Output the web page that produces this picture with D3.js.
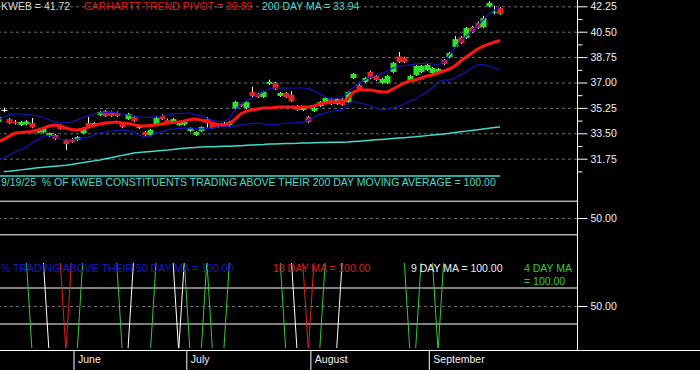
<!DOCTYPE html>
<html>
<head>
<meta charset="utf-8">
<script src="https://cdn.jsdelivr.net/npm/d3@7"></script>
<style>
body { margin: 0; background: #000; }
svg { display: block; font-family: "Liberation Sans", Arial, sans-serif; font-size: 10.5px; }
svg text { white-space: pre; }
.grid line { stroke: #6e6e6e; stroke-dasharray: 3,3; }
.axis text { fill: #f0f0f0; }
.axis line { stroke: #fff; }
</style>
</head>
<body>
<svg id="chart" width="700" height="370"></svg>
<script>
// trading days shown, May 13 - Sep 19 2025
const dates = [
  "2025-05-13","2025-05-14","2025-05-15","2025-05-16","2025-05-19","2025-05-20","2025-05-21","2025-05-22","2025-05-23","2025-05-27","2025-05-28","2025-05-29","2025-05-30",
  "2025-06-02","2025-06-03","2025-06-04","2025-06-05","2025-06-06","2025-06-09","2025-06-10","2025-06-11","2025-06-12","2025-06-13","2025-06-16","2025-06-17","2025-06-18","2025-06-20","2025-06-23","2025-06-24","2025-06-25","2025-06-26","2025-06-27","2025-06-30",
  "2025-07-01","2025-07-02","2025-07-03","2025-07-07","2025-07-08","2025-07-09","2025-07-10","2025-07-11","2025-07-14","2025-07-15","2025-07-16","2025-07-17","2025-07-18","2025-07-21","2025-07-22","2025-07-23","2025-07-24","2025-07-25","2025-07-28","2025-07-29","2025-07-30","2025-07-31",
  "2025-08-01","2025-08-04","2025-08-05","2025-08-06","2025-08-07","2025-08-08","2025-08-11","2025-08-12","2025-08-13","2025-08-14","2025-08-15","2025-08-18","2025-08-19","2025-08-20","2025-08-21","2025-08-22","2025-08-25","2025-08-26","2025-08-27","2025-08-28","2025-08-29",
  "2025-09-02","2025-09-03","2025-09-04","2025-09-05","2025-09-08","2025-09-09","2025-09-10","2025-09-11","2025-09-12","2025-09-15","2025-09-16","2025-09-17","2025-09-18","2025-09-19"
]

const open = [34.28,35.10,34.48,34.30,34.07,34.12,34.21,33.56,33.56,33.31,
  33.38,34.07,33.04,33.11,33.04,33.52,34.21,34.07,34.76,35.03,
  34.97,34.90,34.21,34.48,34.62,33.95,33.59,33.38,34.07,34.69,
  34.41,34.21,34.07,34.10,33.66,33.38,33.66,34.48,34.21,34.07,
  34.10,34.07,35.24,35.52,35.24,36.35,36.21,36.00,36.90,36.97,
  36.07,36.28,36.14,35.38,35.10,34.62,35.03,35.38,35.59,35.86,
  35.52,35.86,35.66,37.30,36.83,37.04,37.72,37.45,36.97,36.97,
  37.72,38.80,38.70,37.17,37.52,37.72,37.86,37.65,37.65,38.55,
  38.76,39.45,40.13,40.06,40.82,41.10,40.82,42.25,41.82,42.13]
const high = [34.70,35.25,34.55,34.40,34.35,34.40,34.55,33.75,33.90,33.55,
  33.45,34.12,33.10,33.18,33.30,33.92,34.62,34.26,35.02,35.10,
  35.05,35.00,34.28,34.90,34.70,34.10,33.66,33.78,34.62,34.80,
  34.50,34.55,34.34,34.36,33.92,33.64,33.98,34.62,34.28,34.14,
  34.30,34.34,35.72,35.60,35.72,36.70,36.28,36.42,37.20,37.04,
  36.34,36.35,36.40,35.45,35.38,34.70,35.30,35.72,36.00,35.95,
  35.92,35.93,36.42,37.66,36.90,37.38,37.80,37.52,37.30,37.52,
  38.42,39.10,38.78,37.52,38.20,38.20,38.28,38.06,38.00,38.62,
  39.10,40.20,40.20,40.82,40.90,41.20,41.60,42.60,42.30,42.20]
const low = [34.20,34.95,34.15,34.10,34.00,34.05,33.85,33.50,33.50,33.25,
  33.05,33.75,32.35,32.85,32.98,33.45,33.88,34.00,34.70,34.62,
  34.64,34.62,33.86,34.42,34.28,33.80,33.30,33.32,34.00,34.42,
  34.15,34.15,34.00,34.02,33.60,33.32,33.60,33.90,33.80,33.88,
  33.95,34.00,35.18,35.32,35.18,36.00,35.94,35.94,36.84,36.48,
  36.00,35.94,35.66,35.04,35.04,34.20,34.96,35.32,35.52,35.45,
  35.46,35.38,35.60,37.24,36.48,36.98,37.24,37.10,36.90,36.90,
  37.66,38.34,38.34,37.10,37.46,37.66,37.80,37.58,37.58,38.21,
  38.70,39.38,39.65,40.00,40.42,40.68,40.75,42.18,41.70,41.66]
const close = [34.62,35.08,34.21,34.18,34.28,34.32,33.90,33.70,33.84,33.52,
  33.11,33.80,32.76,32.90,33.25,33.87,33.93,34.21,34.97,34.69,
  34.69,34.69,33.93,34.83,34.35,33.93,33.38,33.73,34.55,34.48,
  34.21,34.48,34.28,34.30,33.87,33.59,33.93,34.21,33.87,33.95,
  34.12,34.28,35.66,35.38,35.66,36.07,36.00,36.35,37.04,36.55,
  36.28,36.00,35.73,35.10,35.31,34.28,35.24,35.66,35.93,35.52,
  35.86,35.45,36.35,37.59,36.55,37.31,37.31,37.17,37.24,37.45,
  38.35,38.40,38.40,37.45,38.14,38.14,38.21,38.00,37.93,38.28,
  39.03,39.99,39.72,40.75,40.48,40.75,41.44,42.49,41.88,41.72]

const pivot = [32.90,33.10,33.31,33.52,33.55,33.59,33.62,33.73,33.86,34.00,
  34.07,34.00,33.86,33.76,33.73,33.79,33.93,34.04,34.14,34.21,
  34.24,34.28,34.21,34.17,34.10,34.00,34.00,34.04,34.07,34.14,
  34.21,34.24,34.28,34.35,34.45,34.48,34.41,34.31,34.21,34.10,
  34.07,34.17,34.48,34.83,35.03,35.10,35.17,35.24,35.24,35.28,
  35.31,35.31,35.31,35.31,35.31,35.31,35.38,35.52,35.59,35.62,
  35.66,35.72,35.86,36.35,36.48,36.48,36.48,36.41,36.35,36.35,
  36.55,36.76,36.97,37.10,37.17,37.31,37.45,37.52,37.66,37.79,
  37.93,38.14,38.48,38.76,39.03,39.31,39.51,39.65,39.79,39.89]
const bandUpper = [34.41,34.62,34.79,34.83,34.83,34.79,34.76,34.69,34.59,34.45,
  34.28,34.21,34.24,34.28,34.41,34.59,34.72,34.83,34.90,34.93,
  34.97,34.93,34.83,34.76,34.69,34.62,34.59,34.62,34.66,34.69,
  34.76,34.83,34.86,34.90,34.90,34.79,34.69,34.55,34.41,34.31,
  34.28,34.55,35.10,35.52,35.72,35.93,36.14,36.35,36.55,36.62,
  36.62,36.62,36.62,36.62,36.62,36.59,36.41,36.21,36.00,35.86,
  35.90,36.00,36.28,36.69,36.97,37.17,37.38,37.52,37.62,37.79,
  38.00,38.10,38.17,38.21,38.28,38.31,38.34,38.28,38.24,38.41,
  38.89,39.38,39.86,40.20,40.55,40.89,41.31,41.72,42.00,42.20]
const bandLower = [31.65,31.80,32.00,32.21,32.35,32.55,32.83,33.04,33.31,33.35,
  33.24,33.10,33.04,33.07,33.10,33.17,33.24,33.38,33.52,33.59,
  33.66,33.69,33.73,33.69,33.59,33.38,33.24,33.31,33.52,33.62,
  33.73,33.79,33.83,33.86,33.86,33.83,33.79,33.83,33.86,33.93,
  34.00,33.97,34.00,34.07,34.14,34.17,34.21,34.14,34.07,34.10,
  34.14,34.21,34.21,34.24,34.28,34.41,34.62,34.79,34.90,35.00,
  35.07,35.10,35.45,35.72,35.59,35.52,35.38,35.24,35.10,35.17,
  35.28,35.34,35.52,35.72,35.86,36.14,36.35,36.62,37.04,37.17,
  37.17,37.31,37.52,37.72,38.00,38.21,38.24,38.14,38.00,37.86]
const ma200 = [null,30.86,30.89,30.93,30.98,31.03,31.08,31.13,31.16,31.20,
  31.23,31.26,31.30,31.35,31.42,31.48,31.54,31.60,31.66,31.74,
  31.82,31.90,31.98,32.06,32.14,32.18,32.22,32.25,32.28,32.32,
  32.35,32.39,32.43,32.47,32.50,32.53,32.56,32.57,32.58,32.59,
  32.60,32.61,32.63,32.65,32.67,32.69,32.71,32.73,32.76,32.77,
  32.78,32.79,32.80,32.81,32.83,32.84,32.85,32.86,32.87,32.88,
  32.89,32.89,32.90,32.93,32.96,32.99,33.02,33.05,33.08,33.11,
  33.14,33.17,33.20,33.23,33.26,33.30,33.34,33.38,33.42,33.46,
  33.50,33.55,33.60,33.65,33.70,33.75,33.80,33.85,33.90,33.94]

// % of constituents above their moving averages
const pct200 = [100,100,100,100,100,100,100,100,100,100, 100,100,100,100,100,100,100,100,100,100,
  100,100,100,100,100,100,100,100,100,100, 100,100,100,100,100,100,100,100,100,100,
  100,100,100,100,100,100,100,100,100,100, 100,100,100,100,100,100,100,100,100,100,
  100,100,100,100,100,100,100,100,100,100, 100,100,100,100,100,100,100,100,100,100,
  100,100,100,100,100,100,100,100,100,100]
const pct50 = pct200.slice()
const pct18 = [100,100,100,100,100,100,100,100,100,100, 100,100,0,100,100,100,100,100,100,100,
  100,100,100,100,100,100,100,100,100,100, 100,100,100,100,100,100,100,100,100,100,
  100,100,100,100,100,100,100,100,100,100, 100,100,100,100,100,0,100,100,100,100,
  100,100,100,100,100,100,100,100,100,100, 100,100,100,100,100,100,100,100,100,100,
  100,100,100,100,100,100,100,100,100,100]
const pct9 = [100,100,100,100,100,100,100,100,100,0, 0,0,0,0,0,0,0,0,0,0,
  0,0,0,0,100,100,100,100,100,100, 100,100,0,100,100,100,100,100,100,100,
  100,100,100,100,100,100,100,100,100,100, 100,100,100,0,0,0,0,0,0,0,
  0,100,100,100,100,100,100,100,100,100, 100,100,100,100,100,100,100,100,100,100,
  100,100,100,100,100,100,100,100,100,100]
const pct4 = [100,100,100,100,100,100,0,0,0,0, 0,0,0,0,0,100,100,100,100,100,
  100,100,0,0,0,0,0,0,100,100, 100,100,100,100,0,0,0,100,0,0,
  0,100,100,100,100,100,100,100,100,100, 100,0,0,0,0,0,0,0,100,100,
  100,100,100,100,100,100,100,100,100,100, 100,100,100,0,0,100,100,100,0,100,
  100,100,100,100,100,100,100,100,100,100]

const priceTicks = [31.75, 33.50, 35.25, 37.00, 38.75, 40.50, 42.25]
const priceMinor = [30.875, 32.625, 34.375, 36.125, 37.875, 39.625, 41.375]
const pctTicks = [50]
const bandLevels = [30, 70]

const svg = d3.select("#chart")
const plotRight = 577

const x = d3.scalePoint().domain(dates).range([-1.8, 500.1])
const yPrice = d3.scaleLinear().domain([31.75, 42.25]).range([158.7, 6.3])
const yPctA = d3.scaleLinear().domain([0, 100]).range([260, 176])
const yPctB = d3.scaleLinear().domain([0, 100]).range([351, 261])

svg.append("rect").attr("width", 700).attr("height", 370).attr("fill", "#000")

// dashed grid lines
function grid(y, ticks) {
    svg.append("g")
        .attr("class", "grid")
        .attr("transform", "translate(" + plotRight + ",0)")
        .call(d3.axisLeft(y).tickValues(ticks).tickSize(plotRight).tickFormat(""))
        .call(g => g.select(".domain").remove())
}
grid(yPrice, priceTicks)
grid(yPctA, pctTicks)
grid(yPctB, pctTicks)

// 30 / 70 levels
;[yPctA, yPctB].forEach(y => {
    svg.append("g").selectAll("line").data(bandLevels).join("line")
        .attr("x1", 0).attr("x2", plotRight)
        .attr("y1", d => y(d)).attr("y2", d => y(d))
        .attr("stroke", "#fff").attr("stroke-width", 1)
})

// candles
const candles = svg.append("g")
dates.forEach((d, i) => {
    const cx = Math.round(x(d)) + 0.5
    candles.append("line")
        .attr("x1", cx).attr("x2", cx)
        .attr("y1", yPrice(high[i])).attr("y2", yPrice(low[i]))
        .attr("stroke", "#fff").attr("stroke-width", 1)
    const doji = Math.abs(close[i] - open[i]) < 0.05
    const top = yPrice(Math.max(open[i], close[i]))
    const h = Math.max(1, yPrice(Math.min(open[i], close[i])) - top)
    candles.append("rect")
        .attr("x", cx - 3).attr("width", 6)
        .attr("y", doji ? yPrice(close[i]) - 0.5 : top)
        .attr("height", doji ? 1 : h)
        .attr("fill", doji ? "#fff" : (close[i] > open[i] ? "#2ee02e" : "#e02424"))
})

const priceLine = d3.line()
    .defined(d => d != null)
    .x((d, i) => x(dates[i]))
    .y(d => yPrice(d))

svg.append("path").datum(bandUpper).attr("d", priceLine)
    .attr("fill", "none").attr("stroke", "#1414c8").attr("stroke-width", 1.2)
svg.append("path").datum(bandLower).attr("d", priceLine)
    .attr("fill", "none").attr("stroke", "#1414c8").attr("stroke-width", 1.2)
svg.append("path").datum(ma200).attr("d", priceLine)
    .attr("fill", "none").attr("stroke", "#40dccc").attr("stroke-width", 1.5)
svg.append("path").datum(pivot).attr("d", priceLine)
    .attr("fill", "none").attr("stroke", "#ff1414").attr("stroke-width", 3)

// breadth panel, 200 day
svg.append("path").datum(pct200)
    .attr("d", d3.line().x((d, i) => x(dates[i])).y(d => yPctA(d)))
    .attr("fill", "none").attr("stroke", "#40dccc").attr("stroke-width", 1.5)

// breadth panel, short averages
svg.append("clipPath").attr("id", "clipB")
    .append("rect").attr("x", 0).attr("y", 263).attr("width", plotRight).attr("height", 85)
const pctLine = d3.line().x((d, i) => x(dates[i])).y(d => yPctB(d))
const panelB = svg.append("g").attr("clip-path", "url(#clipB)")
;[[pct50, "#1818e0"], [pct18, "#e02020"], [pct9, "#ffffff"], [pct4, "#33cc33"]].forEach(([s, c]) => {
    panelB.append("path").datum(s).attr("d", pctLine)
        .attr("fill", "none").attr("stroke", c).attr("stroke-width", 1)
})

// right axis
svg.append("line").attr("x1", plotRight + 0.5).attr("x2", plotRight + 0.5)
    .attr("y1", 0).attr("y2", 350).attr("stroke", "#fff")
function rightAxis(y, ticks, size, labels) {
    svg.append("g")
        .attr("class", "axis")
        .attr("transform", "translate(" + (plotRight + 0.5) + ",0)")
        .call(d3.axisRight(y).tickValues(ticks).tickSize(size).tickPadding(3)
            .tickFormat(labels ? d3.format(".2f") : ""))
        .call(g => g.select(".domain").remove())
        .call(g => g.selectAll("text").attr("font-size", "10.5px").attr("font-family", null))
}
rightAxis(yPrice, priceTicks, 10, true)
rightAxis(yPrice, priceMinor, 5, false)
rightAxis(yPctA, pctTicks, 10, true)
rightAxis(yPctB, pctTicks, 10, true)

// bottom time axis
svg.append("line").attr("x1", 0).attr("x2", 700).attr("y1", 350.5).attr("y2", 350.5).attr("stroke", "#fff")
const parse = d3.timeParse("%Y-%m-%d")
const monthStarts = dates.filter((d, i) => i > 0 && parse(d).getMonth() != parse(dates[i - 1]).getMonth())
svg.append("g")
    .attr("class", "axis")
    .attr("transform", "translate(2,350)")
    .call(d3.axisBottom(x).tickValues(monthStarts).tickSize(20)
        .tickFormat(d => d3.timeFormat("%B")(parse(d))))
    .call(g => g.select(".domain").remove())
    .call(g => g.selectAll("text").attr("x", 4).attr("y", 6).attr("text-anchor", "start")
        .attr("font-size", "10.5px").attr("font-family", null))

// legends
function label(txt, lx, ly, color) {
    svg.append("text").attr("x", lx).attr("y", ly).attr("fill", color).text(txt)
}
label("KWEB = 41.72", 1, 10, "#d8d8d8")
label("CARHARTT TREND PIVOT = 39.89", 84, 10, "#e01818")
label("200 DAY MA = 33.94", 262, 10, "#40dccc")
label("9/19/25  % OF KWEB CONSTITUENTS TRADING ABOVE THEIR 200 DAY MOVING AVERAGE = 100.00", 1, 185.5, "#40dccc")
label("% TRADING ABOVE THEIR 50 DAY MA = 100.00", 1, 271.5, "#1818d0")
label("18 DAY MA = 100.00", 273, 271.5, "#e01818")
label("9 DAY MA = 100.00", 411, 271.5, "#f0f0f0")
label("4 DAY MA", 524, 271.5, "#33cc33")
label("= 100.00", 524, 285, "#33cc33")
</script>
</body>
</html>
